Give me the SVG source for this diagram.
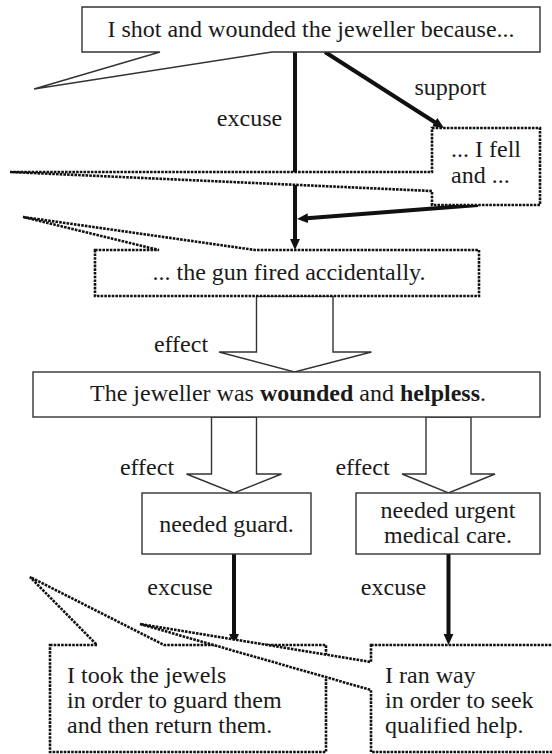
<svg xmlns="http://www.w3.org/2000/svg" width="552" height="754" viewBox="0 0 552 754">
<style>
  .solid { fill: #fff; stroke: #333; stroke-width: 1.4; }
  .dotted { fill: #fff; stroke: #111; stroke-width: 2.6; stroke-dasharray: 2.6 1.1; }
  .thick { fill: none; stroke: #111; stroke-width: 4; }
  .block { fill: #fff; stroke: #333; stroke-width: 1.4; }
</style>
<defs>
  <marker id="head" viewBox="0 0 10 10" markerWidth="11" markerHeight="11" markerUnits="userSpaceOnUse" refX="4" refY="5" orient="auto">
    <path d="M0,0.5 L10,5 L0,9.5 Z" fill="#111"/>
  </marker>
</defs>

<!-- links between statements -->
<g id="connectors">
  <line class="thick" x1="295" y1="52" x2="295" y2="243.4" marker-end="url(#head)"/>
  <line class="thick" x1="325" y1="52" x2="438.4" y2="124.5" marker-end="url(#head)"/>
  <line class="thick" x1="478" y1="205" x2="303.6" y2="218.5" marker-end="url(#head)"/>
  <line class="thick" x1="234" y1="554" x2="234" y2="638.4" marker-end="url(#head)"/>
  <line class="thick" x1="448.5" y1="554" x2="448.5" y2="638.4" marker-end="url(#head)"/>
  <polygon class="block" points="256.5,296 256.5,352 219,352 294.5,372 371.5,352 333,352 333,296"/>
  <polygon class="block" points="211.5,417 211.5,474 186.5,474 234,493 281.5,474 256.5,474 256.5,417"/>
  <polygon class="block" points="426,417 426,474 402,474 448.5,493 495,474 471,474 471,417"/>
  <text style="font-family:'Liberation Serif',Tinos,serif;font-size:24px;fill:#1a1a1a;text-anchor:middle" x="249.5" y="126">excuse</text>
  <text style="font-family:'Liberation Serif',Tinos,serif;font-size:24px;fill:#1a1a1a;text-anchor:middle" x="450.5" y="95">support</text>
  <text style="font-family:'Liberation Serif',Tinos,serif;font-size:24px;fill:#1a1a1a;text-anchor:middle" x="181" y="352">effect</text>
  <text style="font-family:'Liberation Serif',Tinos,serif;font-size:24px;fill:#1a1a1a;text-anchor:middle" x="147" y="475">effect</text>
  <text style="font-family:'Liberation Serif',Tinos,serif;font-size:24px;fill:#1a1a1a;text-anchor:middle" x="362.5" y="475">effect</text>
  <text style="font-family:'Liberation Serif',Tinos,serif;font-size:24px;fill:#1a1a1a;text-anchor:middle" x="180" y="595">excuse</text>
  <text style="font-family:'Liberation Serif',Tinos,serif;font-size:24px;fill:#1a1a1a;text-anchor:middle" x="393.5" y="595">excuse</text>
</g>

<g id="claim">
  <path class="solid" d="M82,7 H540 V52 H272 L34,89 L160,52 H82 Z"/>
  <text style="font-family:'Liberation Serif',Tinos,serif;font-size:24px;fill:#1a1a1a;text-anchor:middle" x="311" y="37">I shot and wounded the jeweller because...</text>
</g>

<g id="fell">
  <path class="dotted" d="M432,128 H540 V205 H432 V191 L10,172 L432,172 Z"/>
  <text style="font-family:'Liberation Serif',Tinos,serif;font-size:24px;fill:#1a1a1a" x="451" y="157">... I fell</text>
  <text style="font-family:'Liberation Serif',Tinos,serif;font-size:24px;fill:#1a1a1a" x="451" y="183">and ...</text>
</g>

<g id="gun">
  <path class="dotted" d="M95,250 H159 L23,217 L255,250 H479 V296 H95 Z"/>
  <text style="font-family:'Liberation Serif',Tinos,serif;font-size:24px;fill:#1a1a1a;text-anchor:middle" x="289" y="280">... the gun fired accidentally.</text>
</g>

<g id="wounded">
  <rect class="solid" x="33" y="372" width="507" height="45"/>
  <text style="font-family:'Liberation Serif',Tinos,serif;font-size:24px;fill:#1a1a1a;text-anchor:middle" x="288" y="401">The jeweller was <tspan font-weight="bold">wounded</tspan> and <tspan font-weight="bold">helpless</tspan>.</text>
</g>

<g id="guard">
  <rect class="solid" x="142" y="493" width="169" height="61"/>
  <text style="font-family:'Liberation Serif',Tinos,serif;font-size:24px;fill:#1a1a1a;text-anchor:middle" x="226.5" y="532">needed guard.</text>
</g>

<g id="medical">
  <rect class="solid" x="356" y="493" width="184" height="61"/>
  <text style="font-family:'Liberation Serif',Tinos,serif;font-size:24px;fill:#1a1a1a;text-anchor:middle" x="448" y="518">needed urgent</text>
  <text style="font-family:'Liberation Serif',Tinos,serif;font-size:24px;fill:#1a1a1a;text-anchor:middle" x="448" y="543">medical care.</text>
</g>

<g id="jewels">
  <path class="dotted" d="M50,645 H97 L30,577 L164,645 H326 V752 H50 Z"/>
  <text style="font-family:'Liberation Serif',Tinos,serif;font-size:24px;fill:#1a1a1a" x="67" y="683">I took the jewels</text>
  <text style="font-family:'Liberation Serif',Tinos,serif;font-size:24px;fill:#1a1a1a" x="67" y="708">in order to guard them</text>
  <text style="font-family:'Liberation Serif',Tinos,serif;font-size:24px;fill:#1a1a1a" x="67" y="733">and then return them.</text>
</g>

<g id="ranaway">
  <path class="dotted" d="M371,645 H558 V752 H371 V690 L140,624 L371,662 Z"/>
  <text style="font-family:'Liberation Serif',Tinos,serif;font-size:24px;fill:#1a1a1a" x="385" y="683">I ran way</text>
  <text style="font-family:'Liberation Serif',Tinos,serif;font-size:24px;fill:#1a1a1a" x="385" y="708">in order to seek</text>
  <text style="font-family:'Liberation Serif',Tinos,serif;font-size:24px;fill:#1a1a1a" x="385" y="733">qualified help.</text>
</g>
</svg>
